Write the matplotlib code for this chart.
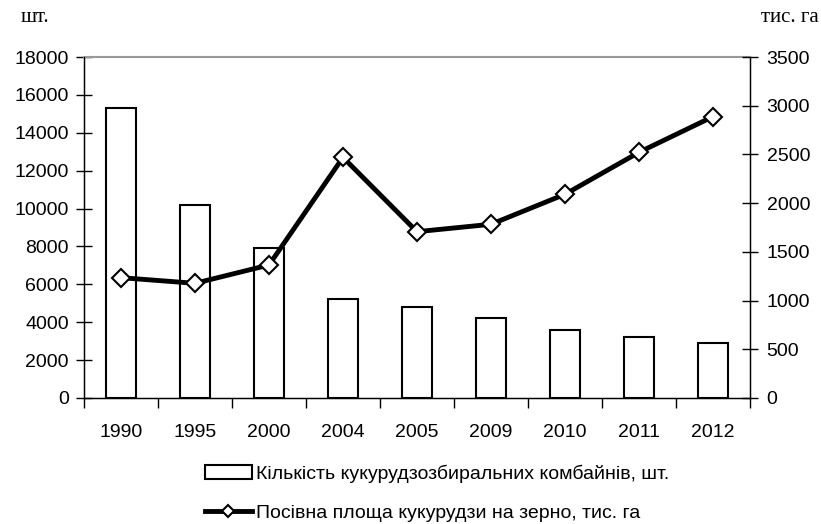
import matplotlib.pyplot as plt
import numpy as np

plt.rcParams['font.family'] = ['Liberation Sans', 'DejaVu Sans']

years = ['1990', '1995', '2000', '2004', '2005', '2009', '2010', '2011', '2012']
combines = [15300, 10200, 7900, 5200, 4800, 4200, 3600, 3200, 2900]
area = [1235, 1177, 1365, 2470, 1707, 1783, 2091, 2522, 2888]

label_bar = 'Кількість кукурудзозбиральних комбайнів, шт.'
label_line = 'Посівна площа кукурудзи на зерно, тис. га'

fig = plt.figure(figsize=(8.21, 5.24), dpi=100)
ax = fig.add_axes([0.1023, 0.2405, 0.8112, 0.6507])
x = np.arange(len(years))

bars = ax.bar(x, combines, width=0.4, facecolor='white', edgecolor='black',
              linewidth=1.5, label=label_bar, zorder=2)
ax.set_xlim(-0.5, len(years) - 0.5)
ax.set_ylim(0, 18000)
ax.set_yticks(range(0, 18001, 2000))
ax.set_xticks(x)
ax.set_xticklabels(years)
ax.set_xticks(np.arange(-0.5, len(years), 1), minor=True)
ax.tick_params(axis='x', which='major', length=0, pad=19, labelsize=14)
ax.tick_params(axis='x', which='minor', length=7, width=1, direction='out')
ax.tick_params(axis='y', length=12, width=1, direction='inout', labelsize=14, pad=5)
ax.spines['top'].set_color('#999999')
ax.spines['top'].set_linewidth(1.5)
for s in ['left', 'right', 'bottom']:
    ax.spines[s].set_linewidth(1)

ax2 = ax.twinx()
line, = ax2.plot(x, area, color='black', linewidth=3.5, marker='D',
                 markersize=9, markerfacecolor='white', markeredgecolor='black',
                 markeredgewidth=1.5, label=label_line, zorder=3)
ax2.set_ylim(0, 3500)
ax2.set_yticks(range(0, 3501, 500))
ax2.tick_params(axis='y', length=12, width=1, direction='inout', labelsize=14, pad=6)
ax2.spines['top'].set_visible(False)

fig.text(0.025, 0.966, 'шт.', family='Liberation Serif', fontsize=15, va='center')
fig.text(0.997, 0.966, 'тис. га', family='Liberation Serif', fontsize=15,
         va='center', ha='right')

fig.legend([bars, line], [label_bar, label_line], loc='upper left',
           bbox_to_anchor=(0.2497, 0.113), bbox_transform=fig.transFigure,
           frameon=False, fontsize=14, handlelength=2.4, handletextpad=0.2,
           labelspacing=1.1, borderpad=0, borderaxespad=0, markerscale=0.65)

fig.savefig('out.png', dpi=100)
